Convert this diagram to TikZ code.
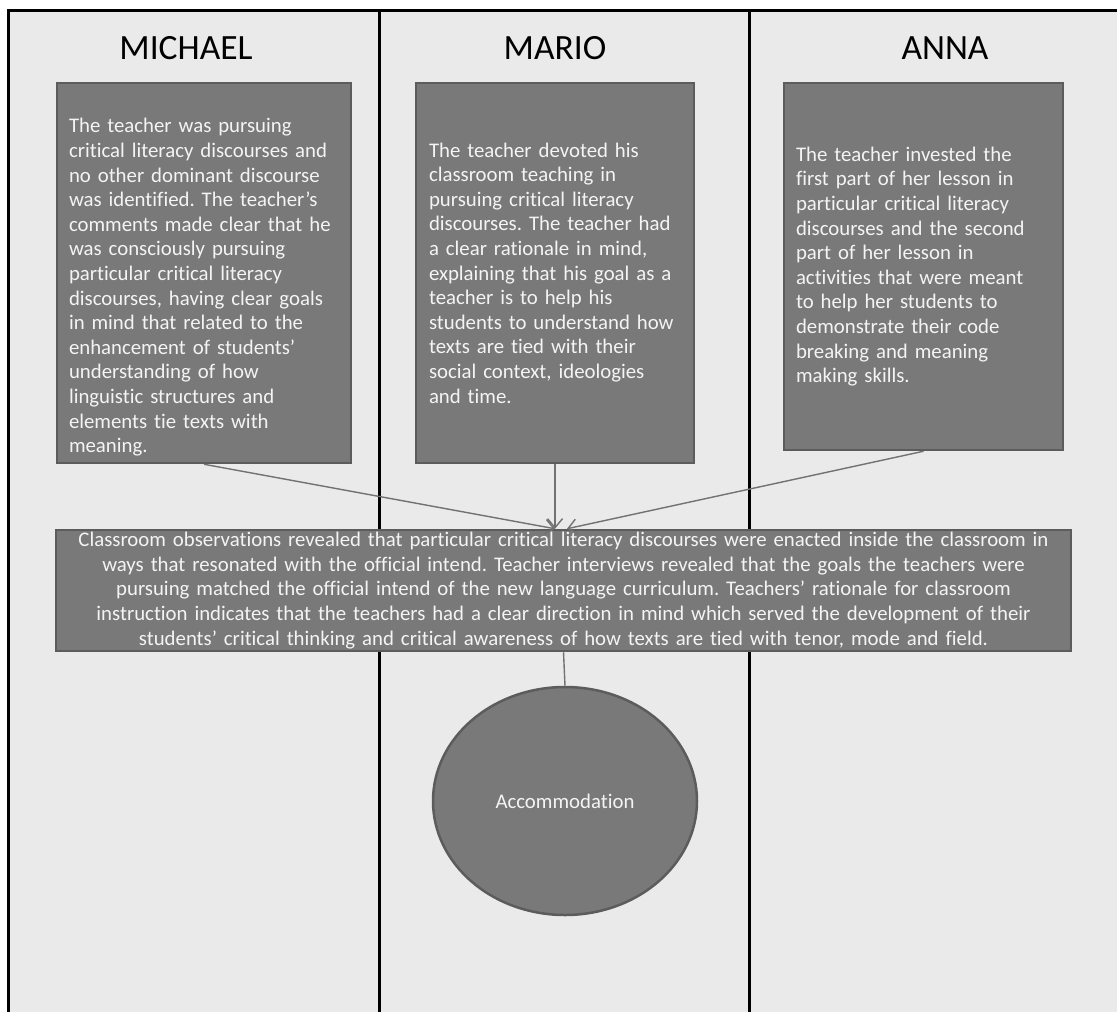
\documentclass[tikz,border=0pt]{standalone}
\usepackage{fontspec}
\setmainfont{Carlito}[Ligatures=NoCommon]
\usetikzlibrary{arrows.meta,shapes.geometric}
\frenchspacing
\definecolor{panelbg}{HTML}{EAEAEA}
\definecolor{boxfill}{HTML}{797979}
\definecolor{boxline}{HTML}{5C5C5C}
\definecolor{linkgray}{HTML}{727272}
\definecolor{boxtext}{HTML}{F4F4F4}
\tikzset{
  textbox/.style={draw=boxline,line width=2.5pt,fill=boxfill,text=boxtext,
    inner sep=0pt,font=\fontsize{20.8}{24.6}\selectfont},
  heading/.style={font=\fontsize{35.5}{40}\selectfont},
  link/.style={draw=linkgray,line width=1.4pt,-{Straight Barb[length=9pt,width=15pt]}}
}
\begin{document}
\begin{tikzpicture}[x=1pt,y=-1pt]
\useasboundingbox (0,0) rectangle (1117,1012);
\fill[panelbg] (8,10) rectangle (1117,1012);
\draw[line width=3pt] (8,1012) -- (8,10) -- (1117,10);
\foreach \x in {379,749}
  \draw[line width=3pt] (\x,10) -- (\x,1012);
\foreach \name/\x in {MICHAEL/186, MARIO/555, ANNA/945}
  \node[heading] (title\name) at (\x,48) {\name};
\node[textbox,align=left,text width=270pt,minimum width=294pt,minimum height=380pt]
  (michael) at (204,273) {\rule{0pt}{43pt}The teacher was pursuing\\
critical literacy discourses and\\
no other dominant discourse\\
was identified. The teacher’s\\
comments made clear that he\\
was consciously pursuing\\
particular critical literacy\\
discourses, having clear goals\\
in mind that related to the\\
enhancement of students’\\
understanding of how\\
linguistic structures and\\
elements tie texts with\\
meaning.};
\node[textbox,align=left,text width=252pt,minimum width=278pt,minimum height=380pt]
  (mario) at (555,273) {The teacher devoted his\\
classroom teaching in\\
pursuing critical literacy\\
discourses. The teacher had\\
a clear rationale in mind,\\
explaining that his goal as a\\
teacher is to help his\\
students to understand how\\
texts are tied with their\\
social context, ideologies\\
and time.};
\node[textbox,align=left,text width=255pt,minimum width=279pt,minimum height=367pt]
  (anna) at (923.5,266.5) {The teacher invested the\\
first part of her lesson in\\
particular critical literacy\\
discourses and the second\\
part of her lesson in\\
activities that were meant\\
to help her students to\\
demonstrate their code\\
breaking and meaning\\
making skills.};
\node[textbox,align=center,text width=1005pt,minimum width=1015pt,minimum height=121pt]
  (summary) at (563.5,590.5) {Classroom observations revealed that particular critical literacy discourses were enacted inside the classroom in\\
ways that resonated with the official intend. Teacher interviews revealed that the goals the teachers were\\
pursuing matched the official intend of the new language curriculum. Teachers’ rationale for classroom\\
instruction indicates that the teachers had a clear direction in mind which served the development of their\\
students’ critical thinking and critical awareness of how texts are tied with tenor, mode and field.};
\node[textbox,ellipse,minimum width=264pt,minimum height=228pt]
  (accom) at (565,801) {Accommodation};
\coordinate (hitl) at ([xshift=-8.5pt]summary.north);
\coordinate (hitr) at ([xshift=3.5pt]summary.north);
\draw[link] (michael.south) -- (hitl);
\draw[link] (mario.south) -- (hitl);
\draw[link] (anna.south) -- (hitr);
\draw[link,-] (summary.south) -- (accom.north);
\end{tikzpicture}
\end{document}
